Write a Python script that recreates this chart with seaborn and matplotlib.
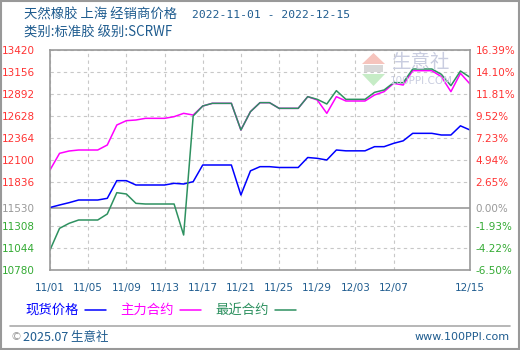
import numpy as np
import pandas as pd
import matplotlib
matplotlib.use('Agg')
import matplotlib.pyplot as plt
from matplotlib.lines import Line2D
from matplotlib.patches import Rectangle, Polygon
import seaborn as sns

sns.set_style('white')
plt.rcParams['font.family'] = ['Noto Sans CJK SC', 'DejaVu Sans']

# ---------------- data ----------------
dates = pd.date_range('2022-11-01', '2022-12-15', freq='D')
spot = [11530, 11560, 11588, 11620, 11620, 11620, 11640, 11852, 11852, 11800,
        11800, 11800, 11800, 11820, 11812, 11840, 12040, 12040, 12040, 12040,
        11680, 11970, 12020, 12020, 12010, 12010, 12010, 12130, 12120, 12100,
        12220, 12210, 12210, 12210, 12260, 12260, 12300, 12330, 12420, 12420,
        12420, 12400, 12400, 12510, 12460]
main = [11980, 12180, 12208, 12220, 12220, 12220, 12280, 12520, 12572, 12580,
        12600, 12600, 12600, 12620, 12660, 12640, 12748, 12780, 12780, 12780,
        12460, 12680, 12788, 12788, 12720, 12720, 12720, 12860, 12820, 12660,
        12860, 12808, 12808, 12808, 12880, 12920, 13020, 13000, 13172, 13172,
        13172, 13100, 12920, 13140, 13012]
near = [11020, 11280, 11340, 11380, 11380, 11380, 11452, 11708, 11692, 11580,
        11572, 11572, 11572, 11572, 11200, 12628, 12748, 12780, 12780, 12780,
        12460, 12680, 12788, 12788, 12720, 12720, 12720, 12860, 12828, 12772,
        12932, 12828, 12828, 12828, 12912, 12940, 13028, 13028, 13192, 13192,
        13192, 13128, 12992, 13168, 13092]
series_names = ['现货价格', '主力合约', '最近合约']
left_ticks = [13420, 13156, 12892, 12628, 12364, 12100, 11836, 11530, 11308, 11044, 10780]
right_labels = ['16.39%', '14.10%', '11.81%', '9.52%', '7.23%', '4.94%', '2.65%',
                '0.00%', '-1.93%', '-4.22%', '-6.50%']
x_labels = ['11/01', '11/05', '11/09', '11/13', '11/17', '11/21', '11/25',
            '11/29', '12/03', '12/07', '12/15']
title1 = '天然橡胶 上海 经销商价格'
title1_dates = '2022-11-01 - 2022-12-15'
title2 = '类别:标准胶 级别:SCRWF'

colors = ['#0000ff', '#ff00ff', '#2e9160']
RED, GRAY, GREEN = '#ff3333', '#999999', '#33aa33'
TXT = '#1f5c8f'
MONO = ['DejaVu Sans Mono', 'Noto Sans CJK SC']

df = pd.DataFrame({
    'date': list(dates) * 3,
    'price': spot + main + near,
    'series': np.repeat(series_names, len(dates)),
})

W, H = 520, 350
fig = plt.figure(figsize=(W / 100, H / 100), dpi=100)
ax = fig.add_axes([50 / W, 80 / H, 420 / W, 220 / H])


def px(x, y):
    return x / W, 1 - y / H


# watermark (decorative, behind the data)
fig.add_artist(Polygon([px(362, 64), px(385, 64), px(373.5, 53)], closed=True,
                       facecolor='#f6c4bd', edgecolor='none', zorder=0.5))
fig.add_artist(Rectangle(px(364, 72), 19 / W, 7 / H, facecolor='#d8d8d8',
                         edgecolor='none', zorder=0.5))
fig.add_artist(Polygon([px(362, 74), px(385, 74), px(373.5, 86)], closed=True,
                       facecolor='#c6ecc6', edgecolor='none', zorder=0.5))
ax.patch.set_alpha(0)
fig.text(*px(421, 63), '生意社', fontsize=14, color='#c9cde0',
         ha='center', va='center', zorder=0.5)
fig.text(*px(421, 81), '100PPI.COM', fontsize=7.5, color='#c9cde0',
         ha='center', va='center', zorder=0.5, family='DejaVu Sans')

sns.lineplot(data=df, x='date', y='price', hue='series', hue_order=series_names,
             palette=dict(zip(series_names, colors)), ax=ax, legend=False,
             linewidth=1.1)

ax.set_xlim(dates[0], dates[-1])
ax.set_ylim(left_ticks[-1], left_ticks[0])
ax.set_xlabel('')
ax.set_ylabel('')

# y ticks / grid
ax.set_yticks(left_ticks)
ax.set_yticklabels([str(v) for v in left_ticks], fontsize=7.5, family='DejaVu Sans')
for lab, v in zip(ax.get_yticklabels(), left_ticks):
    lab.set_color(RED if v > 11530 else (GRAY if v == 11530 else GREEN))
ax.tick_params(axis='y', length=0, pad=11)

xt = [pd.Timestamp('2022-' + s.replace('/', '-')) for s in x_labels]
ax.set_xticks(xt)
ax.set_xticklabels(x_labels, fontsize=7.5, color=TXT, family='DejaVu Sans')
ax.tick_params(axis='x', length=0, pad=9)

ax.grid(True, color='#c8c8c8', linestyle=(0, (3, 3)), linewidth=0.8)
ax.set_axisbelow(True)
glines = ax.yaxis.get_gridlines()
i0 = left_ticks.index(11530)
glines[i0].set_linestyle('-')
glines[i0].set_color('#999999')
glines[i0].set_linewidth(1.2)

for s in ax.spines.values():
    s.set_color('#999999')
    s.set_linewidth(1.2)

# right axis (percent)
ax2 = ax.twinx()
ax2.set_ylim(ax.get_ylim())
ax2.set_yticks(left_ticks)
ax2.set_yticklabels(right_labels, fontsize=7.5, family='DejaVu Sans')
for lab, v in zip(ax2.get_yticklabels(), left_ticks):
    lab.set_color(RED if v > 11530 else (GRAY if v == 11530 else GREEN))
ax2.tick_params(axis='y', length=0, pad=4)
ax2.grid(False)
ax2.patch.set_alpha(0)
for s in ax2.spines.values():
    s.set_visible(False)

# titles
fig.text(*px(24, 15), title1, fontsize=9.6, color=TXT, ha='left', va='center')
fig.text(*px(192, 15), title1_dates, fontsize=8.2, color=TXT, ha='left',
         va='center', family=MONO)
fig.text(*px(24, 33), title2, fontsize=9.6, color=TXT, ha='left', va='center')

# legend
leg_x = [25, 120, 215]
for name, c, x0 in zip(series_names, colors, leg_x):
    fig.text(*px(x0, 310), name, fontsize=9.6, color=c, ha='left', va='center')
    fig.add_artist(Line2D([(x0 + 60) / W, (x0 + 81) / W], [1 - 310 / H] * 2,
                          color=c, linewidth=1.1, transform=fig.transFigure))

# separator & footer
fig.add_artist(Line2D([10 / W, 510 / W], [1 - 326 / H] * 2, color='#aaaaaa',
                      linewidth=1.2, transform=fig.transFigure))
fig.text(*px(10, 337), '©', fontsize=8, color='#999999', ha='left', va='center',
         family='DejaVu Sans')
fig.text(*px(23, 337), '2025.07 生意社', fontsize=9, color=TXT,
         ha='left', va='center')
fig.text(*px(510, 337), 'www.100PPI.com', fontsize=8, color=TXT,
         ha='right', va='center', family='DejaVu Sans')

# outer border
fig.add_artist(Rectangle((0.001, 0.002), 0.997, 0.996, fill=False,
                         edgecolor='#999999', linewidth=1.5,
                         transform=fig.transFigure))

fig.savefig('out.png', dpi=100)
